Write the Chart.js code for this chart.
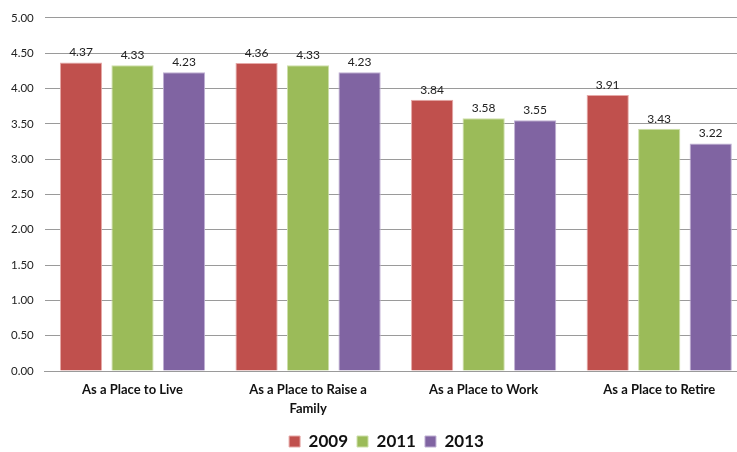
<!DOCTYPE html>
<html>
<head>
<meta charset="utf-8">
<script src="https://cdn.jsdelivr.net/npm/chart.js@4/dist/chart.umd.min.js"></script>
<style>
  html, body { margin: 0; padding: 0; background: #ffffff; overflow: hidden; }
  #frame { width: 737px; height: 452px; overflow: hidden; position: relative; }
  #wrap { width: 747px; height: 452px; position: absolute; left: 0; top: 0; }
</style>
</head>
<body>
<div id="frame"><div id="wrap"><canvas id="chart"></canvas></div></div>
<script>
const categories = [
  "As a Place to Live",
  ["As a Place to Raise a", "Family"],
  "As a Place to Work",
  "As a Place to Retire"
];
const seriesNames = ["2009", "2011", "2013"];
const values2009 = [4.37, 4.36, 3.84, 3.91];
const values2011 = [4.33, 4.33, 3.58, 3.43];
const values2013 = [4.23, 4.23, 3.55, 3.22];
const yTicks = { min: 0, max: 5, step: 0.5 };

const colors = ["#C0504D", "#9BBB59", "#8064A2"];
const borders = ["#E6A9A8", "#CDDFA9", "#BFB0D3"];
const FONT = "Lato, 'Open Sans', sans-serif";

// Value labels above each bar
const valueLabels = {
  id: "valueLabels",
  afterDatasetsDraw(chart) {
    const ctx = chart.ctx;
    ctx.save();
    ctx.font = "12px " + FONT;
    ctx.fillStyle = "#222";
    ctx.textAlign = "center";
    ctx.textBaseline = "bottom";
    chart.data.datasets.forEach((ds, i) => {
      chart.getDatasetMeta(i).data.forEach((bar, j) => {
        ctx.fillText(ds.data[j].toFixed(2), bar.x, bar.y - 4);
      });
    });
    ctx.restore();
  }
};

// Compact legend box so the plot gets more height, then place it
const legendShift = {
  id: "legendShift",
  beforeInit(chart) {
    const lg = chart.legend;
    if (!lg || lg._compact) return;
    const fit = lg.fit;
    lg.fit = function () {
      fit.call(this);
      this.height -= 12;
    };
    lg._compact = true;
  },
  afterLayout(chart) {
    const lg = chart.legend;
    if (!lg) return;
    lg.left += 13; lg.right += 13;
    lg.top -= 4; lg.bottom -= 4;
  }
};

const series = [values2009, values2011, values2013];
new Chart(document.getElementById("chart"), {
  type: "bar",
  data: {
    labels: categories,
    datasets: series.map((vals, i) => ({
      label: seriesNames[i],
      data: vals,
      backgroundColor: colors[i],
      borderColor: borders[i],
      borderWidth: 1,
      barPercentage: 0.82,
      categoryPercentage: 0.88
    }))
  },
  options: {
    responsive: true,
    maintainAspectRatio: false,
    animation: false,
    layout: { padding: { top: 10, right: 0, left: 0, bottom: 0 } },
    plugins: {
      legend: {
        position: "bottom",
        labels: {
          boxWidth: 11,
          boxHeight: 11,
          padding: 9,
          color: "#111",
          font: { family: FONT, size: 17, weight: "bold" }
        }
      },
      tooltip: { enabled: false }
    },
    scales: {
      x: {
        grid: { display: false, drawTicks: false },
        border: { display: true, color: "#9a9a9a", width: 1 },
        ticks: {
          color: "#111",
          padding: 9,
          maxRotation: 0,
          font: { family: FONT, size: 13, weight: "bold", lineHeight: 1.5 }
        }
      },
      y: {
        min: yTicks.min,
        max: yTicks.max,
        grid: { color: "#9a9a9a", drawTicks: false },
        border: { display: false },
        ticks: {
          stepSize: yTicks.step,
          padding: 11,
          color: "#222",
          font: { family: FONT, size: 11.5 },
          callback: v => v.toFixed(2)
        }
      }
    }
  },
  plugins: [valueLabels, legendShift]
});
</script>
</body>
</html>
